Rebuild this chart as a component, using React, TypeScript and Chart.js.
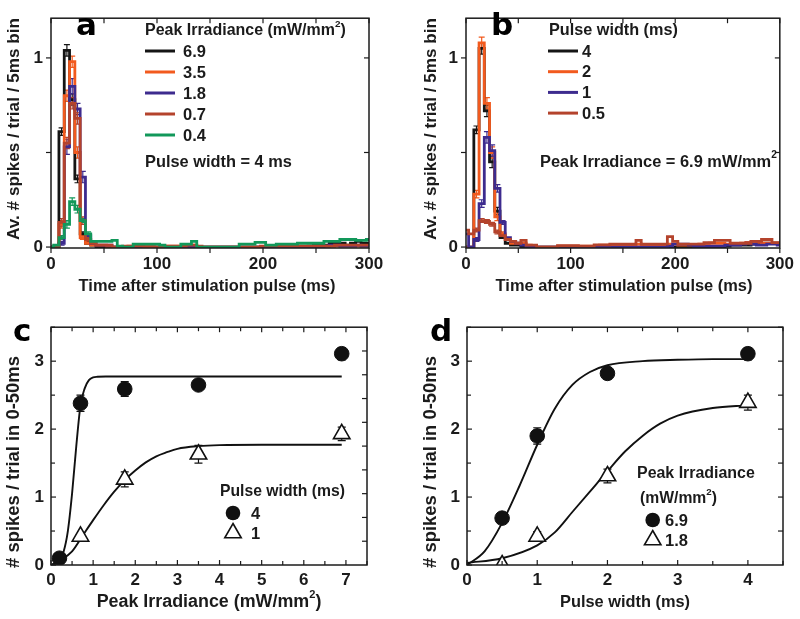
import React, { useEffect, useRef } from "react";
import { Chart, registerables } from "chart.js";
Chart.register(...registerables);

const FONT = "'Liberation Sans', Arial, Helvetica, sans-serif";
const LETTER_FONT = "'DejaVu Sans', 'Liberation Sans', sans-serif";
const INK = "#1b1b1b";

// ---------- Panel a / b : PSTH, 5 ms bins, bin centres 0..300 ms ----------
const BIN_TIMES = Array.from({ length: 61 }, (_, i) => i * 5);

// Panel a: Peak irradiance series (pulse width 4 ms)
const A_IRR_LABELS = ["6.9", "3.5", "1.8", "0.7", "0.4"];
const A_69 = [0, 0, 0.61, 1.04, 0.78, 0.36, 0.07, 0.02, 0.01, 0,
  0, 0, 0, 0, 0, 0, 0, 0, 0, 0,
  0, 0, 0, 0, 0, 0, 0, 0, 0, 0,
  0, 0, 0, 0, 0, 0, 0, 0, 0, 0,
  0, 0, 0, 0, 0, 0, 0, 0, 0, 0.005,
  0.01, 0.01, 0.01, 0.02, 0.02, 0.02, 0.01, 0.02, 0.03, 0.02, 0.02];
const A_35 = [0, 0, 0.12, 0.80, 0.98, 0.50, 0.05, 0.02, 0.01, 0.01,
  0.01, 0.005, 0, 0, 0, 0.005, 0.005, 0.005, 0.005, 0.005,
  0, 0, 0.005, 0.005, 0.005, 0.005, 0.01, 0.01, 0, 0,
  0, 0, 0, 0, 0, 0, 0, 0, 0, 0,
  0, 0, 0.005, 0.005, 0.005, 0.005, 0.005, 0.005, 0.005, 0.005,
  0.005, 0.005, 0.005, 0.005, 0.005, 0.005, 0.005, 0.005, 0.005, 0.005, 0.005];
const A_18 = [0, 0, 0.02, 0.53, 0.85, 0.73, 0.37, 0.06, 0.02, 0.01,
  0.01, 0.01, 0, 0, 0, 0, 0, 0, 0, 0,
  0, 0, 0, 0, 0, 0, 0, 0, 0, 0,
  0, 0, 0, 0, 0, 0, 0, 0, 0, 0,
  0, 0, 0, 0, 0, 0, 0, 0, 0, 0,
  0, 0, 0.005, 0.01, 0.01, 0.005, 0.005, 0.005, 0.01, 0.005, 0.005];
const A_07 = [0, 0, 0.13, 0.55, 0.76, 0.68, 0.14, 0.04, 0.02, 0.01,
  0.01, 0.01, 0, 0, 0.005, 0.005, 0.005, 0.005, 0, 0,
  0, 0, 0.005, 0.005, 0.005, 0.005, 0.01, 0.01, 0.005, 0,
  0, 0, 0, 0, 0, 0, 0, 0, 0, 0,
  0.005, 0.005, 0.005, 0.005, 0.005, 0.005, 0.005, 0.005, 0.005, 0.005,
  0.005, 0.005, 0.005, 0.005, 0.01, 0.01, 0.01, 0.01, 0.01, 0.01, 0.01];
const A_04 = [0, 0.01, 0.05, 0.12, 0.24, 0.20, 0.14, 0.07, 0.03, 0.03,
  0.03, 0.03, 0.035, 0.005, 0, 0, 0.015, 0.015, 0.015, 0.015,
  0.015, 0.01, 0, 0, 0, 0.015, 0.015, 0.03, 0, 0,
  0, 0, 0, 0, 0, 0, 0.015, 0.015, 0.015, 0.025,
  0.025, 0.01, 0.01, 0.015, 0.015, 0.015, 0.015, 0.02, 0.02, 0.02,
  0.02, 0.02, 0.03, 0.03, 0.03, 0.04, 0.04, 0.04, 0.035, 0.035, 0.04];
// error bars for the first bins (0..35 ms)
const A_69_ERR = [0, 0, 0.02, 0.03, 0.03, 0.02, 0.01, 0];
const A_35_ERR = [0, 0, 0.02, 0.03, 0.03, 0.03, 0.01, 0];
const A_18_ERR = [0, 0, 0.01, 0.04, 0.04, 0.03, 0.03, 0.01];
const A_07_ERR = [0, 0, 0.02, 0.03, 0.03, 0.03, 0.02, 0.01];
const A_04_ERR = [0, 0, 0.01, 0.02, 0.02, 0.02, 0.01, 0.01];

// Panel b: Pulse width series (peak irradiance 6.9 mW/mm2)
const B_PW_LABELS = ["4", "2", "1", "0.5"];
const B_4 = [0, 0, 0.62, 1.05, 0.72, 0.45, 0.19, 0.05, 0.02, 0.01,
  0.01, 0, 0, 0, 0, 0, 0, 0, 0, 0,
  0, 0, 0, 0, 0, 0, 0, 0, 0, 0,
  0, 0, 0, 0, 0, 0, 0, 0, 0, 0,
  0, 0, 0, 0, 0, 0, 0, 0, 0, 0,
  0.005, 0.01, 0.01, 0.01, 0.01, 0.015, 0.015, 0.02, 0.02, 0.02, 0.02];
const B_2 = [0, 0, 0.28, 1.08, 0.76, 0.50, 0.16, 0.07, 0.04, 0.02,
  0.02, 0.02, 0.01, 0.005, 0, 0, 0, 0, 0.005, 0.005,
  0.005, 0.005, 0.005, 0.005, 0.005, 0.005, 0.01, 0.01, 0.01, 0.01,
  0.01, 0.01, 0.01, 0.015, 0.01, 0.01, 0.01, 0.01, 0.01, 0.015,
  0.015, 0.01, 0.01, 0.01, 0.01, 0.015, 0.015, 0.02, 0.02, 0.02,
  0.015, 0.015, 0.015, 0.02, 0.025, 0.03, 0.025, 0.02, 0.02, 0.02, 0.015];
const B_1 = [0.07, 0, 0.04, 0.23, 0.58, 0.51, 0.31, 0.13, 0.05, 0.03,
  0.02, 0.01, 0.005, 0, 0, 0, 0, 0, 0, 0,
  0, 0, 0, 0, 0, 0, 0, 0, 0, 0,
  0, 0, 0, 0, 0, 0, 0, 0, 0, 0.005,
  0.015, 0.015, 0.015, 0.01, 0.005, 0.005, 0.005, 0.005, 0.005, 0.005,
  0.01, 0.01, 0.01, 0.015, 0.02, 0.015, 0.01, 0.01, 0.015, 0.015, 0.01];
const B_05 = [0.09, 0.07, 0.09, 0.14, 0.135, 0.12, 0.08, 0.06, 0.04, 0.03,
  0.02, 0.035, 0.01, 0.01, 0, 0, 0, 0, 0.007, 0.007,
  0.007, 0.007, 0.005, 0.005, 0.005, 0.012, 0.012, 0.012, 0.015, 0.015,
  0.015, 0.015, 0.015, 0.035, 0.015, 0.015, 0.015, 0.015, 0.015, 0.055,
  0.03, 0.015, 0.015, 0.015, 0.015, 0.015, 0.023, 0.023, 0.035, 0.035,
  0.035, 0.02, 0.02, 0.02, 0.02, 0.03, 0.03, 0.04, 0.04, 0.023, 0.023];
const B_4_ERR = [0, 0, 0.02, 0.03, 0.03, 0.03, 0.02, 0];
const B_2_ERR = [0, 0, 0.02, 0.03, 0.03, 0.03, 0.02, 0.01];
const B_1_ERR = [0, 0, 0.01, 0.02, 0.03, 0.03, 0.02, 0.01];
const B_05_ERR = [0, 0, 0.01, 0.01, 0.01, 0.01, 0.01, 0.01];

// ---------- Panel c : spikes vs peak irradiance ----------
const C_PW4_X = [0.2, 0.7, 1.75, 3.5, 6.9];
const C_PW4_Y = [0.1, 2.38, 2.59, 2.65, 3.11];
const C_PW4_E = [0.04, 0.12, 0.11, 0.07, 0.09];
const C_PW1_X = [0.7, 1.75, 3.5, 6.9];
const C_PW1_Y = [0.42, 1.26, 1.63, 1.93];
const C_PW1_E = [0.04, 0.11, 0.13, 0.1];
const C_FIT4_X = [0, 0.1, 0.2, 0.3, 0.4, 0.5, 0.6, 0.7, 0.8, 0.9, 1.0, 1.1, 1.3, 1.6, 2.5, 4, 6.9];
const C_FIT4_Y = [0, 0.02, 0.08, 0.2, 0.5, 1.05, 1.75, 2.35, 2.6, 2.72, 2.76, 2.77, 2.775, 2.775, 2.775, 2.775, 2.775];
const C_FIT1_X = [0, 0.25, 0.5, 0.75, 1.0, 1.25, 1.5, 1.75, 2.0, 2.25, 2.5, 2.75, 3.0, 3.5, 4.0, 5.0, 6.9];
const C_FIT1_Y = [0, 0.08, 0.2, 0.43, 0.66, 0.88, 1.08, 1.25, 1.39, 1.51, 1.6, 1.66, 1.71, 1.75, 1.765, 1.77, 1.77];

// ---------- Panel d : spikes vs pulse width ----------
const D_I69_X = [0.5, 1, 2, 4];
const D_I69_Y = [0.69, 1.9, 2.82, 3.11];
const D_I69_E = [0.04, 0.12, 0.09, 0.09];
const D_I18_X = [0.5, 1, 2, 4];
const D_I18_Y = [0.0, 0.42, 1.31, 2.39];
const D_I18_E = [0.03, 0.07, 0.1, 0.11];
const D_FIT69_X = [0, 0.25, 0.5, 0.75, 1.0, 1.25, 1.5, 1.75, 2.0, 2.5, 3.0, 3.5, 4.0];
const D_FIT69_Y = [0, 0.2, 0.62, 1.17, 1.77, 2.3, 2.65, 2.84, 2.94, 3.0, 3.02, 3.03, 3.03];
const D_FIT18_X = [0, 0.5, 1.0, 1.25, 1.5, 1.75, 2.0, 2.25, 2.5, 2.75, 3.0, 3.5, 4.0];
const D_FIT18_Y = [0.03, 0.1, 0.29, 0.48, 0.78, 1.08, 1.38, 1.67, 1.9, 2.08, 2.2, 2.31, 2.35];

const COL = {
  black: "#151515",
  orange: "#f25a1e",
  purple: "#3d2b8e",
  brown: "#b4432c",
  green: "#12985a",
};

type Part = string | { sup: string };

function drawRich(
  ctx: CanvasRenderingContext2D,
  parts: Part[],
  x: number,
  y: number,
  o: { size: number; fit?: number; align?: "left" | "center"; rotate?: boolean; family?: string; weight?: string; color?: string }
) {
  const fam = o.family || FONT;
  const wt = o.weight || "bold";
  const measure = (s: number) =>
    parts.reduce((w: number, p) => {
      const sup = typeof p !== "string";
      ctx.font = `${wt} ${sup ? s * 0.62 : s}px ${fam}`;
      return w + ctx.measureText(sup ? (p as any).sup : (p as string)).width;
    }, 0);
  let size = o.size;
  if (o.fit) size = (size * o.fit) / measure(size);
  const total = measure(size);
  ctx.save();
  ctx.translate(x, y);
  if (o.rotate) ctx.rotate(-Math.PI / 2);
  let cx = o.align === "center" ? -total / 2 : 0;
  ctx.fillStyle = o.color || INK;
  ctx.textBaseline = "middle";
  ctx.textAlign = "left";
  for (const p of parts) {
    const sup = typeof p !== "string";
    const s = sup ? size * 0.62 : size;
    ctx.font = `${wt} ${s}px ${fam}`;
    const t = sup ? (p as any).sup : (p as string);
    ctx.fillText(t, cx, sup ? -size * 0.42 : 0);
    cx += ctx.measureText(t).width;
  }
  ctx.restore();
}

function letter(ctx: CanvasRenderingContext2D, t: string, x: number, y: number) {
  ctx.save();
  ctx.font = `bold 31px ${LETTER_FONT}`;
  ctx.fillStyle = "#000";
  ctx.textBaseline = "alphabetic";
  ctx.textAlign = "left";
  ctx.fillText(t, x, y);
  ctx.restore();
}

function legendLine(ctx: CanvasRenderingContext2D, x1: number, x2: number, y: number, color: string) {
  ctx.save();
  ctx.strokeStyle = color;
  ctx.lineWidth = 3;
  ctx.beginPath();
  ctx.moveTo(x1, y);
  ctx.lineTo(x2, y);
  ctx.stroke();
  ctx.restore();
}

function circleMark(ctx: CanvasRenderingContext2D, x: number, y: number, r: number) {
  ctx.save();
  ctx.fillStyle = "#111";
  ctx.beginPath();
  ctx.arc(x, y, r, 0, Math.PI * 2);
  ctx.fill();
  ctx.restore();
}

function triMark(ctx: CanvasRenderingContext2D, x: number, y: number, r: number) {
  ctx.save();
  ctx.fillStyle = "#fff";
  ctx.strokeStyle = "#111";
  ctx.lineWidth = 1.6;
  ctx.beginPath();
  ctx.moveTo(x, y - r);
  ctx.lineTo(x + r * 0.866, y + r * 0.5);
  ctx.lineTo(x - r * 0.866, y + r * 0.5);
  ctx.closePath();
  ctx.fill();
  ctx.stroke();
  ctx.restore();
}

interface ErrSet { x: number[]; y: number[]; e: number[]; color: string; cap: number; }
interface Panel {
  ox: number; oy: number; w: number; h: number;
  plot: { l: number; t: number; r: number; b: number };
  xMin: number; xMax: number; yMin: number; yMax: number;
  xMajor: number[]; xMinor: number[]; yMajor: number[]; yMinor: number[]; yRight: number[];
  outward: boolean;
  xPad: number; yPad: number;
  datasets: any[];
  errs: ErrSet[];
  draw: (ctx: CanvasRenderingContext2D) => void;
}

function hist(values: number[], color: string, order: number) {
  return {
    type: "line",
    data: BIN_TIMES.map((t, i) => ({ x: t, y: values[i] })),
    stepped: "middle",
    borderColor: color,
    borderWidth: 2.8,
    pointRadius: 0,
    fill: false,
    order,
  };
}
function pts(xs: number[], ys: number[], style: "circle" | "triangle", order: number) {
  return {
    type: "line",
    data: xs.map((x, i) => ({ x, y: ys[i] })),
    showLine: false,
    pointStyle: style,
    pointRadius: style === "circle" ? 7.3 : 9.5,
    pointBackgroundColor: style === "circle" ? "#111" : "#fff",
    pointBorderColor: "#111",
    pointBorderWidth: style === "circle" ? 1 : 1.6,
    order,
  };
}
function curve(xs: number[], ys: number[], order: number) {
  return {
    type: "line",
    data: xs.map((x, i) => ({ x, y: ys[i] })),
    borderColor: "#111",
    borderWidth: 1.9,
    pointRadius: 0,
    cubicInterpolationMode: "monotone",
    fill: false,
    order,
  };
}
function histErr(values: number[], errs: number[], color: string): ErrSet {
  return { x: BIN_TIMES.slice(0, errs.length), y: values.slice(0, errs.length), e: errs, color, cap: 3 };
}

const PANELS: Panel[] = [
  {
    ox: 0, oy: 0, w: 400, h: 310,
    plot: { l: 51, t: 4, r: 369, b: 248 },
    xMin: 0, xMax: 300, yMin: -0.005, yMax: 1.21,
    xMajor: [0, 100, 200, 300], xMinor: [50, 150, 250],
    yMajor: [0, 1], yMinor: [0.5], yRight: [0.5, 1],
    outward: true, xPad: 6, yPad: 8,
    datasets: [
      hist(A_69, COL.black, 4),
      hist(A_35, COL.orange, 3),
      hist(A_18, COL.purple, 2),
      hist(A_07, COL.brown, 1),
      hist(A_04, COL.green, 0),
    ],
    errs: [
      histErr(A_69, A_69_ERR, COL.black),
      histErr(A_35, A_35_ERR, COL.orange),
      histErr(A_18, A_18_ERR, COL.purple),
      histErr(A_07, A_07_ERR, COL.brown),
      histErr(A_04, A_04_ERR, COL.green),
    ],
    draw: (ctx) => {
      letter(ctx, "a", 76, 35);
      drawRich(ctx, ["Peak Irradiance (mW/mm", { sup: "2" }, ")"], 145, 31, { size: 16, fit: 201 });
      const cols = [COL.black, COL.orange, COL.purple, COL.brown, COL.green];
      A_IRR_LABELS.forEach((lab, i) => {
        const y = 51 + i * 21;
        legendLine(ctx, 145, 175, y, cols[i]);
        drawRich(ctx, [lab], 183, y + 1, { size: 16.5 });
      });
      drawRich(ctx, ["Pulse width = 4 ms"], 145, 162, { size: 16, fit: 147 });
      drawRich(ctx, ["Av. # spikes / trial / 5ms bin"], 14, 129, { size: 15, fit: 222, align: "center", rotate: true });
      drawRich(ctx, ["Time after stimulation pulse (ms)"], 207, 286, { size: 16, fit: 257, align: "center" });
    },
  },
  {
    ox: 400, oy: 0, w: 400, h: 310,
    plot: { l: 466, t: 4, r: 783, b: 248 },
    xMin: 0, xMax: 300, yMin: -0.005, yMax: 1.21,
    xMajor: [0, 100, 200, 300], xMinor: [50, 150, 250],
    yMajor: [0, 1], yMinor: [0.5], yRight: [0.5, 1],
    outward: true, xPad: 6, yPad: 8,
    datasets: [
      hist(B_4, COL.black, 3),
      hist(B_2, COL.orange, 2),
      hist(B_1, COL.purple, 1),
      hist(B_05, COL.brown, 0),
    ],
    errs: [
      histErr(B_4, B_4_ERR, COL.black),
      histErr(B_2, B_2_ERR, COL.orange),
      histErr(B_1, B_1_ERR, COL.purple),
      histErr(B_05, B_05_ERR, COL.brown),
    ],
    draw: (ctx) => {
      letter(ctx, "b", 491, 35);
      drawRich(ctx, ["Pulse width (ms)"], 549, 31, { size: 16, fit: 129 });
      const cols = [COL.black, COL.orange, COL.purple, COL.brown];
      B_PW_LABELS.forEach((lab, i) => {
        const y = 51 + i * 20.7;
        legendLine(ctx, 548, 578, y, cols[i]);
        drawRich(ctx, [lab], 582, y + 1, { size: 16.5 });
      });
      drawRich(ctx, ["Peak Irradiance = 6.9 mW/mm", { sup: "2" }], 540, 162, { size: 16, fit: 237 });
      drawRich(ctx, ["Av. # spikes / trial / 5ms bin"], 431, 129, { size: 15, fit: 222, align: "center", rotate: true });
      drawRich(ctx, ["Time after stimulation pulse (ms)"], 624, 286, { size: 16, fit: 257, align: "center" });
    },
  },
  {
    ox: 0, oy: 310, w: 400, h: 309,
    plot: { l: 51, t: 324, r: 367, b: 565 },
    xMin: 0, xMax: 7.5, yMin: 0, yMax: 3.5,
    xMajor: [0, 1, 2, 3, 4, 5, 6, 7], xMinor: [0.5, 1.5, 2.5, 3.5, 4.5, 5.5, 6.5, 7.5],
    yMajor: [0, 1, 2, 3], yMinor: [0.5, 1.5, 2.5, 3.5], yRight: [0.35, 0.7, 1.05, 1.4, 1.75, 2.1, 2.45, 2.8, 3.15],
    outward: false, xPad: 5, yPad: 7,
    datasets: [
      curve(C_FIT4_X, C_FIT4_Y, 3),
      curve(C_FIT1_X, C_FIT1_Y, 2),
      pts(C_PW4_X, C_PW4_Y, "circle", 1),
      pts(C_PW1_X, C_PW1_Y, "triangle", 0),
    ],
    errs: [
      { x: C_PW4_X, y: C_PW4_Y, e: C_PW4_E, color: "#111", cap: 4 },
      { x: C_PW1_X, y: C_PW1_Y, e: C_PW1_E, color: "#111", cap: 4 },
    ],
    draw: (ctx) => {
      letter(ctx, "c", 13, 341);
      drawRich(ctx, ["Pulse width (ms)"], 220, 492, { size: 16, fit: 125 });
      circleMark(ctx, 233, 513, 7.3);
      drawRich(ctx, ["4"], 251, 514, { size: 16.5 });
      triMark(ctx, 233, 533, 9.5);
      drawRich(ctx, ["1"], 251, 534, { size: 16.5 });
      drawRich(ctx, ["# spikes / trial in 0-50ms"], 14, 462, { size: 15, fit: 212, align: "center", rotate: true });
      drawRich(ctx, ["Peak Irradiance (mW/mm", { sup: "2" }, ")"], 209, 602, { size: 16, fit: 225, align: "center" });
    },
  },
  {
    ox: 400, oy: 310, w: 400, h: 309,
    plot: { l: 467, t: 324, r: 783, b: 565 },
    xMin: 0, xMax: 4.5, yMin: 0, yMax: 3.5,
    xMajor: [0, 1, 2, 3, 4], xMinor: [0.5, 1.5, 2.5, 3.5, 4.5],
    yMajor: [0, 1, 2, 3], yMinor: [0.5, 1.5, 2.5, 3.5], yRight: [0.5, 1, 1.5, 2, 2.5, 3, 3.5],
    outward: false, xPad: 5, yPad: 7,
    datasets: [
      curve(D_FIT69_X, D_FIT69_Y, 3),
      curve(D_FIT18_X, D_FIT18_Y, 2),
      pts(D_I69_X, D_I69_Y, "circle", 1),
      pts(D_I18_X, D_I18_Y, "triangle", 0),
    ],
    errs: [
      { x: D_I69_X, y: D_I69_Y, e: D_I69_E, color: "#111", cap: 4 },
      { x: D_I18_X, y: D_I18_Y, e: D_I18_E, color: "#111", cap: 4 },
    ],
    draw: (ctx) => {
      letter(ctx, "d", 430, 341);
      drawRich(ctx, ["Peak Irradiance"], 637, 474, { size: 16, fit: 118 });
      drawRich(ctx, ["(mW/mm", { sup: "2" }, ")"], 640, 499, { size: 14, fit: 77 });
      circleMark(ctx, 652.7, 520, 7.3);
      drawRich(ctx, ["6.9"], 665, 521, { size: 16.5 });
      triMark(ctx, 652.7, 540, 9.5);
      drawRich(ctx, ["1.8"], 665, 541, { size: 16.5 });
      drawRich(ctx, ["# spikes / trial in 0-50ms"], 431, 462, { size: 15, fit: 212, align: "center", rotate: true });
      drawRich(ctx, ["Pulse width (ms)"], 625, 602, { size: 16, fit: 130, align: "center" });
    },
  },
];

function build(canvas: HTMLCanvasElement, p: Panel) {
  const tickFont = { family: FONT, weight: "bold" as const, size: 17 };
  const framePlugin = {
    id: "frameTicks",
    afterDraw(chart: any) {
      const { ctx, chartArea: a, scales } = chart;
      const xs = scales.x, ys = scales.y;
      ctx.save();
      ctx.strokeStyle = INK;
      ctx.lineWidth = 1.5;
      ctx.strokeRect(a.left, a.top, a.right - a.left, a.bottom - a.top);
      ctx.lineWidth = 1.2;
      const seg = (x1: number, y1: number, x2: number, y2: number) => {
        ctx.beginPath();
        ctx.moveTo(x1, y1);
        ctx.lineTo(x2, y2);
        ctx.stroke();
      };
      const dir = p.outward ? 1 : -1;
      const doX = (vals: number[], len: number) => vals.forEach((v) => {
        const px = xs.getPixelForValue(v);
        seg(px, a.bottom, px, a.bottom + dir * len);
        seg(px, a.top, px, a.top + len);
      });
      doX(p.xMajor, 5);
      doX(p.xMinor, p.outward ? 5 : 4);
      const doY = (vals: number[], len: number) => vals.forEach((v) => {
        const py = ys.getPixelForValue(v);
        seg(a.left, py, a.left - dir * len, py);
      });
      doY(p.yMajor, 5);
      doY(p.yMinor, p.outward ? 5 : 4);
      p.yRight.forEach((v) => {
        const py = ys.getPixelForValue(v);
        seg(a.right, py, a.right - 5, py);
      });
      ctx.restore();
    },
  };
  const errPlugin = {
    id: "errBars",
    beforeDatasetsDraw(chart: any) {
      const { ctx, scales, chartArea: a } = chart;
      ctx.save();
      ctx.beginPath();
      ctx.rect(a.left, a.top, a.right - a.left, a.bottom - a.top);
      ctx.clip();
      ctx.lineWidth = 1.2;
      p.errs.forEach((s) => {
        ctx.strokeStyle = s.color;
        s.x.forEach((xv, i) => {
          if (!s.e[i]) return;
          const px = scales.x.getPixelForValue(xv);
          const y1 = scales.y.getPixelForValue(s.y[i] - s.e[i]);
          const y2 = scales.y.getPixelForValue(s.y[i] + s.e[i]);
          ctx.beginPath();
          ctx.moveTo(px, y1); ctx.lineTo(px, y2);
          ctx.moveTo(px - s.cap, y1); ctx.lineTo(px + s.cap, y1);
          ctx.moveTo(px - s.cap, y2); ctx.lineTo(px + s.cap, y2);
          ctx.stroke();
        });
      });
      ctx.restore();
    },
  };
  const textPlugin = {
    id: "texts",
    afterDraw(chart: any) {
      const ctx = chart.ctx;
      ctx.save();
      ctx.translate(-p.ox, -p.oy);
      p.draw(ctx);
      ctx.restore();
    },
  };
  return new Chart(canvas, {
    type: "line",
    data: { datasets: p.datasets },
    options: {
      responsive: false,
      animation: false,
      devicePixelRatio: 1,
      layout: { padding: { left: 0, top: p.plot.t - p.oy, right: p.ox + p.w - p.plot.r, bottom: 0 } },
      plugins: { legend: { display: false }, tooltip: { enabled: false } },
      scales: {
        x: {
          type: "linear",
          min: p.xMin,
          max: p.xMax,
          grid: { display: false, drawTicks: false, tickLength: 0 },
          border: { display: false },
          ticks: { font: tickFont, color: INK, padding: p.xPad, maxRotation: 0, autoSkip: false, callback: (v: any) => String(v) },
          afterBuildTicks: (s: any) => { s.ticks = p.xMajor.map((v) => ({ value: v })); },
          afterFit: (s: any) => { s.height = p.oy + p.h - p.plot.b; },
        },
        y: {
          type: "linear",
          min: p.yMin,
          max: p.yMax,
          grid: { display: false, drawTicks: false, tickLength: 0 },
          border: { display: false },
          ticks: { font: tickFont, color: INK, padding: p.yPad, autoSkip: false, callback: (v: any) => String(v) },
          afterBuildTicks: (s: any) => { s.ticks = p.yMajor.map((v) => ({ value: v })); },
          afterFit: (s: any) => { s.width = p.plot.l - p.ox; },
        },
      },
    } as any,
    plugins: [errPlugin, framePlugin, textPlugin],
  } as any);
}

export default function App() {
  const refs = useRef<(HTMLCanvasElement | null)[]>([]);
  useEffect(() => {
    const charts = PANELS.map((p, i) => build(refs.current[i] as HTMLCanvasElement, p));
    return () => charts.forEach((c) => c.destroy());
  }, []);
  return (
    <div style={{ position: "absolute", left: 0, top: 0, width: 800, height: 619, background: "#fff" }}>
      {PANELS.map((p, i) => (
        <canvas
          key={i}
          ref={(el) => { refs.current[i] = el; }}
          width={p.w}
          height={p.h}
          style={{ position: "absolute", left: p.ox, top: p.oy, width: p.w, height: p.h }}
        />
      ))}
    </div>
  );
}
